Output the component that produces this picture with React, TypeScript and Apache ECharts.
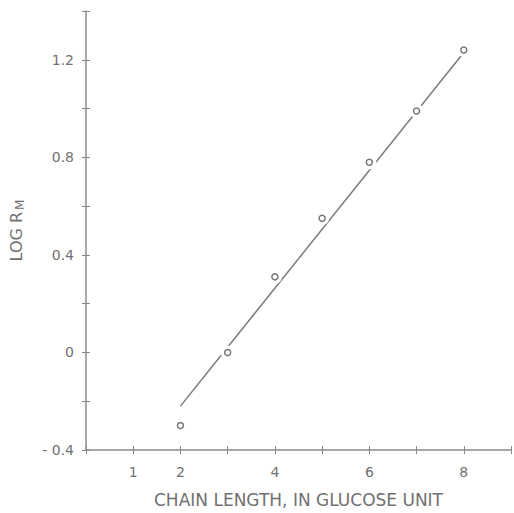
import React, { useEffect, useRef } from "react";
import * as echarts from "echarts";

const chainLength = [2, 3, 4, 5, 6, 7, 8];
const logRm = [-0.3, 0.0, 0.31, 0.55, 0.78, 0.99, 1.24];
const fitX = [2, 8];
const fitY = [-0.22, 1.23];
const xLabelsShown = [1, 2, 4, 6, 8];
const yLabelsShown = [-0.4, 0, 0.4, 0.8, 1.2];

const GRAY = "#707070";
const AXIS = "#8a8a8a";
const FONT = "DejaVu Sans, Liberation Sans, sans-serif";

export default function App() {
  const ref = useRef<HTMLDivElement>(null);
  useEffect(() => {
    if (!ref.current) return;
    const chart = echarts.init(ref.current, null, { renderer: "svg" });
    const pts = chainLength.map((x, i) => [x, logRm[i]]);
    const xBase = {
      type: "value",
      min: 0,
      max: 9,
      interval: 1,
      position: "bottom",
      splitLine: { show: false },
    };
    const yBase = {
      type: "value",
      min: -0.4,
      max: 1.4,
      interval: 0.2,
      position: "left",
      splitLine: { show: false },
    };
    chart.setOption({
      animation: false,
      backgroundColor: "#ffffff",
      grid: { left: 81, right: 1, top: 11, bottom: 61, containLabel: false },
      xAxis: [
        {
          ...xBase,
          name: "CHAIN LENGTH, IN GLUCOSE UNIT",
          nameLocation: "middle",
          nameGap: 41,
          nameTextStyle: { color: GRAY, fontSize: 17, fontFamily: FONT },
          axisLine: { show: true, onZero: false, lineStyle: { color: AXIS, width: 1.5 } },
          axisTick: { show: true, inside: false, length: 4, lineStyle: { color: AXIS, width: 1 } },
          axisLabel: {
            color: GRAY,
            fontSize: 14,
            fontFamily: FONT,
            margin: 15,
            formatter: (v: number) => (xLabelsShown.includes(Math.round(v)) ? String(Math.round(v)) : ""),
          },
        },
        {
          ...xBase,
          axisLine: { show: false, onZero: false },
          axisTick: { show: true, inside: true, length: 4, lineStyle: { color: AXIS, width: 1 } },
          axisLabel: { show: false },
        },
      ],
      yAxis: [
        {
          ...yBase,
          name: "{a|LOG R}{s|M}",
          nameLocation: "middle",
          nameGap: 60,
          nameRotate: 90,
          nameTextStyle: {
            color: GRAY,
            fontFamily: FONT,
            rich: {
              a: { color: GRAY, fontSize: 16, fontFamily: FONT },
              s: { color: GRAY, fontSize: 12, fontFamily: FONT, padding: [8, 0, 0, 2] },
            },
          },
          axisLine: { show: true, onZero: false, lineStyle: { color: AXIS, width: 1.5 } },
          axisTick: { show: true, length: 4, lineStyle: { color: AXIS, width: 1 } },
          axisLabel: {
            color: GRAY,
            fontSize: 14,
            fontFamily: FONT,
            margin: 12,
            formatter: (v: number) => {
              const r = Math.round(v * 10) / 10;
              if (!yLabelsShown.some((t) => Math.abs(t - r) < 1e-6)) return "";
              if (r === 0) return "0";
              return r < 0 ? "- " + Math.abs(r).toFixed(1) : r.toFixed(1);
            },
          },
        },
        {
          ...yBase,
          axisLine: { show: false, onZero: false },
          axisTick: { show: true, inside: true, length: 4, lineStyle: { color: AXIS, width: 1 } },
          axisLabel: { show: false },
        },
      ],
      series: [
        {
          type: "line",
          data: fitX.map((x, i) => [x, fitY[i]]),
          symbol: "none",
          lineStyle: { color: "#7a7a7a", width: 1.5 },
          z: 1,
        },
        {
          type: "scatter",
          data: pts.slice(1),
          symbol: "circle",
          symbolSize: 14,
          itemStyle: { color: "#ffffff", borderWidth: 0, opacity: 1 },
          z: 5,
          silent: true,
        },
        {
          type: "scatter",
          data: pts,
          symbol: "circle",
          symbolSize: 6,
          itemStyle: { color: "#ffffff", borderColor: "#777777", borderWidth: 1.5, opacity: 1 },
          z: 10,
        },
      ],
    });
    return () => chart.dispose();
  }, []);
  return (
    <div
      ref={ref}
      style={{ position: "fixed", left: 0, top: 0, width: 514, height: 513, background: "#fff" }}
    />
  );
}
